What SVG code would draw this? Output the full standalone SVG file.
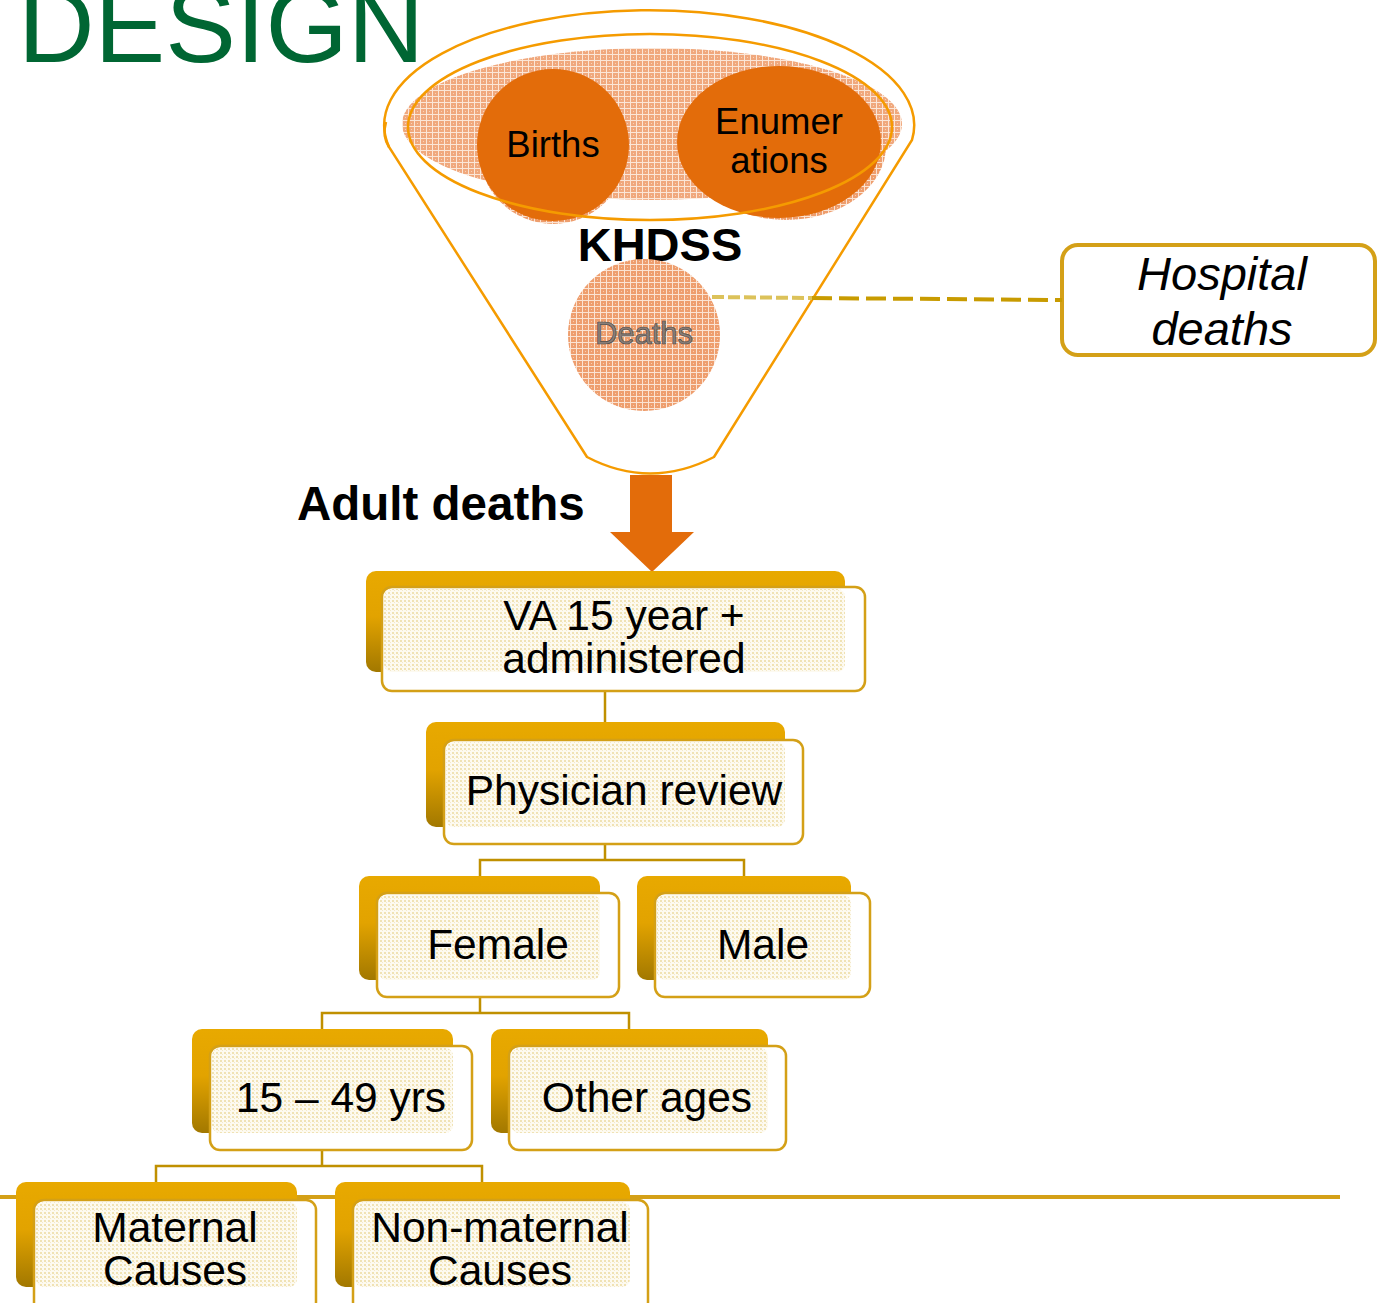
<svg xmlns="http://www.w3.org/2000/svg" width="1382" height="1303" viewBox="0 0 1382 1303">
<defs>
<style>
.lbl{font-family:"Liberation Sans",Arial,sans-serif;font-size:42.5px;fill:#000;text-anchor:middle}
.back{fill:url(#gold)}
.front{fill:#fff;stroke:#D4A017;stroke-width:2.5}
.dots{fill:url(#dotp)}
.conn{fill:none;stroke:#C09000;stroke-width:2.5}
.circ{font-family:"Liberation Sans",Arial,sans-serif;font-size:36.5px;fill:#000;text-anchor:middle}
</style>
<linearGradient id="gold" x1="0" y1="0" x2="0" y2="1">
<stop offset="0" stop-color="#E8A900"/>
<stop offset="0.45" stop-color="#E2A300"/>
<stop offset="1" stop-color="#A27800"/>
</linearGradient>
<pattern id="dotp" width="4" height="4" patternUnits="userSpaceOnUse">
<rect width="4" height="4" fill="#FDFAF0"/>
<rect width="2" height="2" fill="#F0E2B4"/>
<rect x="2" y="2" width="1" height="1" fill="#F4E9C8"/>
</pattern>
<pattern id="hatch" width="6" height="6" patternUnits="userSpaceOnUse">
<rect width="6" height="6" fill="#EE9E6E"/>
<path d="M0 0.5H6M0.5 0V6" stroke="#FBE3D2" stroke-width="1"/>
<rect x="3" y="3" width="1" height="1" fill="#F8CDB0"/>
</pattern>
</defs>

<rect width="1382" height="1303" fill="#fff"/>

<text x="18" y="62" font-family="Liberation Sans,Arial,sans-serif" font-size="106" fill="#006633">DESIGN</text>

<g id="funnel">
<path d="M389 147 A265 115 0 1 1 912 140 L714 457 Q650 490 587 457 Z" fill="#fff" stroke="#F59B00" stroke-width="2.5"/>
<path d="M389 147 Q382 136 386 122" fill="none" stroke="#F59B00" stroke-width="2.5"/>
<ellipse cx="652" cy="124" rx="250" ry="76" fill="url(#hatch)" opacity="0.9"/>
<circle cx="553" cy="150" r="74" fill="url(#hatch)"/>
<ellipse cx="786" cy="146" rx="100" ry="74" fill="url(#hatch)"/>
</g>

<g id="births">
<circle cx="553" cy="145" r="76" fill="#E36C0A"/>
<text class="circ" x="553" y="157">Births</text>
</g>
<g id="enumerations">
<ellipse cx="779" cy="142" rx="102" ry="76" fill="#E36C0A"/>
<text class="circ" x="779" y="134">Enumer</text>
<text class="circ" x="779" y="173">ations</text>
</g>
<ellipse cx="650" cy="127" rx="242" ry="93" fill="none" stroke="#F59B00" stroke-width="2.5"/>

<text x="660" y="261" font-family="Liberation Sans,Arial,sans-serif" font-size="47" font-weight="bold" text-anchor="middle" fill="#000">KHDSS</text>

<g id="deaths">
<circle cx="644" cy="335" r="76" fill="url(#hatch)"/>
<text x="644" y="344" font-family="Liberation Sans,Arial,sans-serif" font-size="31" text-anchor="middle" fill="#8a7e78" stroke="#4a4a4a" stroke-width="0.7">Deaths</text>
</g>

<g id="hospital">
<rect x="1062" y="245" width="313" height="110" rx="16" fill="#fff" stroke="#D4A017" stroke-width="4"/>
<text x="1222" y="290" font-family="Liberation Sans,Arial,sans-serif" font-size="47" font-style="italic" text-anchor="middle">Hospital</text>
<text x="1222" y="345" font-family="Liberation Sans,Arial,sans-serif" font-size="47" font-style="italic" text-anchor="middle">deaths</text>
</g>

<text x="297" y="520" font-family="Liberation Sans,Arial,sans-serif" font-size="47.5" font-weight="bold" fill="#000">Adult deaths</text>

<g id="connectors">
<path d="M712 297 L812 298" fill="none" stroke="#DCC25A" stroke-width="4" stroke-dasharray="12 4"/>
<path d="M812 298 L1062 300" fill="none" stroke="#C89B00" stroke-width="4" stroke-dasharray="20 7"/>
<path d="M630 475 H672 V532 H694 L652 572 L610 532 H630 Z" fill="#E36C0A"/>
<path class="conn" d="M605 691 V740"/>
<path class="conn" d="M605 844 V860 M480 893 V860 H744 V893"/>
<path class="conn" d="M480 997 V1013 M322 1046 V1013 H629 V1046"/>
<path class="conn" d="M322 1150 V1166 M156 1200 V1166 H482 V1200"/>
<path d="M0 1197 H1340" stroke="#D4A017" stroke-width="4"/>
</g>

<g id="va">
<rect class="back" x="366" y="571" width="479" height="101" rx="10"/>
<rect class="front" x="382" y="587" width="483" height="104" rx="10"/>
<rect class="dots" x="384" y="589" width="461" height="83" rx="8"/>
<text class="lbl" x="624" y="630">VA 15 year +</text>
<text class="lbl" x="624" y="673">administered</text>
</g>

<g id="physician">
<rect class="back" x="426" y="722" width="359" height="105" rx="10"/>
<rect class="front" x="444" y="740" width="359" height="104" rx="10"/>
<rect class="dots" x="446" y="742" width="339" height="85" rx="8"/>
<text class="lbl" x="624" y="805">Physician review</text>
</g>

<g id="female">
<rect class="back" x="359" y="876" width="241" height="104" rx="10"/>
<rect class="front" x="377" y="893" width="242" height="104" rx="10"/>
<rect class="dots" x="379" y="895" width="221" height="85" rx="8"/>
<text class="lbl" x="498" y="959">Female</text>
</g>

<g id="male">
<rect class="back" x="637" y="876" width="214" height="104" rx="10"/>
<rect class="front" x="655" y="893" width="215" height="104" rx="10"/>
<rect class="dots" x="657" y="895" width="194" height="85" rx="8"/>
<text class="lbl" x="763" y="959">Male</text>
</g>

<g id="age1549">
<rect class="back" x="192" y="1029" width="261" height="104" rx="10"/>
<rect class="front" x="210" y="1046" width="262" height="104" rx="10"/>
<rect class="dots" x="212" y="1048" width="241" height="85" rx="8"/>
<text class="lbl" x="341" y="1112">15 – 49 yrs</text>
</g>

<g id="otherages">
<rect class="back" x="491" y="1029" width="277" height="104" rx="10"/>
<rect class="front" x="509" y="1046" width="277" height="104" rx="10"/>
<rect class="dots" x="511" y="1048" width="257" height="85" rx="8"/>
<text class="lbl" x="647" y="1112">Other ages</text>
</g>

<g id="maternal">
<rect class="back" x="16" y="1182" width="281" height="105" rx="10"/>
<rect class="front" x="34" y="1200" width="282" height="112" rx="10"/>
<rect class="dots" x="36" y="1202" width="261" height="85" rx="8"/>
<text class="lbl" x="175" y="1242">Maternal</text>
<text class="lbl" x="175" y="1285">Causes</text>
</g>

<g id="nonmaternal">
<rect class="back" x="335" y="1182" width="295" height="105" rx="10"/>
<rect class="front" x="353" y="1200" width="295" height="112" rx="10"/>
<rect class="dots" x="355" y="1202" width="275" height="85" rx="8"/>
<text class="lbl" x="500" y="1242">Non-maternal</text>
<text class="lbl" x="500" y="1285">Causes</text>
</g>
</svg>
